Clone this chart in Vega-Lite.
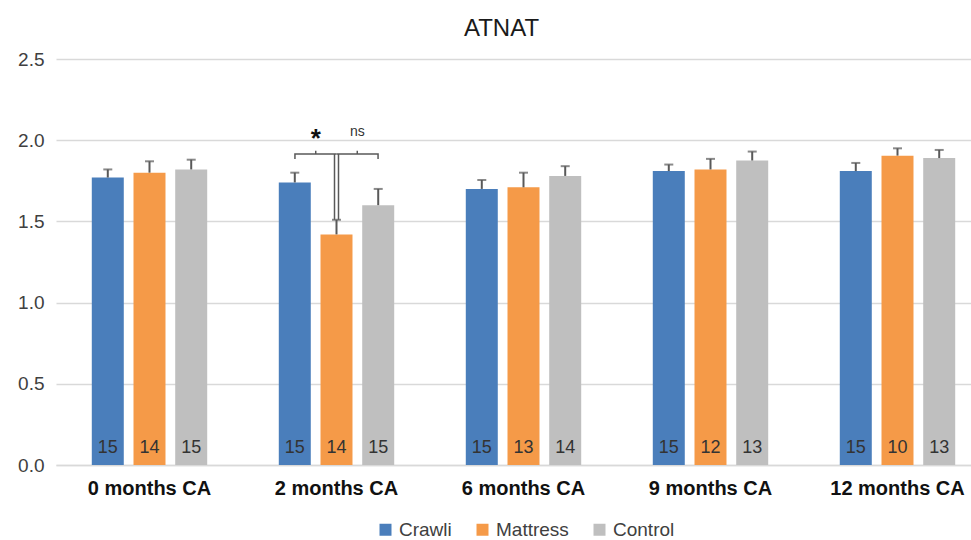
{
  "$schema": "https://vega.github.io/schema/vega-lite/v6.json",
  "description": "ATNAT by age and group, grouped bars with SE bars and n per bar.",
  "width": 915,
  "height": 406,
  "autosize": "none",
  "padding": {"left": 56, "top": 59, "right": 0, "bottom": 75},
  "title": {"text": "ATNAT", "fontSize": 24, "fontWeight": "normal", "color": "#1A1A1A", "offset": 9, "dx": -12},
  "datasets": {
    "bars": [
      {"month": "0 months CA", "group": "Crawli", "mean": 1.77, "upper": 1.82, "n": 15},
      {"month": "0 months CA", "group": "Mattress", "mean": 1.80, "upper": 1.87, "n": 14},
      {"month": "0 months CA", "group": "Control", "mean": 1.82, "upper": 1.88, "n": 15},
      {"month": "2 months CA", "group": "Crawli", "mean": 1.74, "upper": 1.80, "n": 15},
      {"month": "2 months CA", "group": "Mattress", "mean": 1.42, "upper": 1.51, "n": 14},
      {"month": "2 months CA", "group": "Control", "mean": 1.60, "upper": 1.70, "n": 15},
      {"month": "6 months CA", "group": "Crawli", "mean": 1.70, "upper": 1.755, "n": 15},
      {"month": "6 months CA", "group": "Mattress", "mean": 1.71, "upper": 1.80, "n": 13},
      {"month": "6 months CA", "group": "Control", "mean": 1.78, "upper": 1.84, "n": 14},
      {"month": "9 months CA", "group": "Crawli", "mean": 1.81, "upper": 1.85, "n": 15},
      {"month": "9 months CA", "group": "Mattress", "mean": 1.82, "upper": 1.885, "n": 12},
      {"month": "9 months CA", "group": "Control", "mean": 1.875, "upper": 1.93, "n": 13},
      {"month": "12 months CA", "group": "Crawli", "mean": 1.81, "upper": 1.86, "n": 15},
      {"month": "12 months CA", "group": "Mattress", "mean": 1.905, "upper": 1.95, "n": 10},
      {"month": "12 months CA", "group": "Control", "mean": 1.89, "upper": 1.94, "n": 13}
    ],
    "brackets": [
      {"month": "2 months CA", "pos": "Crawli", "y": 1.884, "bracket": "L", "order": 1},
      {"month": "2 months CA", "pos": "Crawli", "y": 1.915, "bracket": "L", "order": 2},
      {"month": "2 months CA", "pos": "Mattress", "y": 1.915, "bracket": "L", "order": 3},
      {"month": "2 months CA", "pos": "Mattress", "y": 1.915, "bracket": "R", "order": 1},
      {"month": "2 months CA", "pos": "Control", "y": 1.915, "bracket": "R", "order": 2},
      {"month": "2 months CA", "pos": "Control", "y": 1.884, "bracket": "R", "order": 3}
    ],
    "marks": [
      {"month": "2 months CA", "pos": "CM", "low": 1.915, "high": 1.935, "label": "*", "labelY": 1.96},
      {"month": "2 months CA", "pos": "MC", "low": 1.915, "high": 1.935, "label": "ns", "labelY": 2.026}
    ],
    "drops": [
      {"month": "2 months CA", "low": 1.51, "high": 1.915}
    ]
  },
  "encoding": {
    "x": {
      "field": "month",
      "type": "nominal",
      "sort": ["0 months CA", "2 months CA", "6 months CA", "9 months CA", "12 months CA"],
      "scale": {"paddingInner": 0, "paddingOuter": 0, "range": [0, 935]},
      "axis": {
        "title": null,
        "labelAngle": 0,
        "labelFontSize": 20,
        "labelFontWeight": "bold",
        "labelColor": "#111111",
        "labelPadding": 13,
        "ticks": false,
        "domainColor": "#D9D9D9",
        "domainWidth": 1.5,
        "grid": false
      }
    }
  },
  "layer": [
    {
      "data": {"name": "bars"},
      "encoding": {
        "xOffset": {
          "field": "group",
          "type": "nominal",
          "sort": ["Crawli", "Mattress", "Control"],
          "scale": {"paddingInner": 0.233, "paddingOuter": 0.858}
        }
      },
      "layer": [
        {
          "mark": {"type": "bar"},
          "encoding": {
            "y": {
              "field": "mean",
              "type": "quantitative",
              "scale": {"domain": [0, 2.5], "nice": false},
              "axis": {
                "title": null,
                "values": [0, 0.5, 1, 1.5, 2, 2.5],
                "format": ".1f",
                "labelFontSize": 19,
                "labelColor": "#404040",
                "labelPadding": 12,
                "domain": false,
                "ticks": false,
                "gridColor": "#D9D9D9",
                "gridWidth": 1.5
              }
            },
            "color": {
              "field": "group",
              "type": "nominal",
              "sort": ["Crawli", "Mattress", "Control"],
              "scale": {"domain": ["Crawli", "Mattress", "Control"], "range": ["#4A7EBB", "#F59A48", "#BFBFBF"]},
              "legend": {
                "title": null,
                "orient": "none",
                "legendX": 320,
                "legendY": 461,
                "direction": "horizontal",
                "symbolType": "square",
                "symbolSize": 144,
                "symbolStrokeWidth": 0,
                "labelFontSize": 19,
                "labelColor": "#404040",
                "columnPadding": 21,
                "labelOffset": 4
              }
            }
          }
        },
        {
          "mark": {"type": "rule", "color": "#595959", "strokeWidth": 2},
          "encoding": {
            "y": {"field": "mean", "type": "quantitative"},
            "y2": {"field": "upper"}
          }
        },
        {
          "mark": {"type": "tick", "color": "#595959", "size": 9, "thickness": 2},
          "encoding": {
            "y": {"field": "upper", "type": "quantitative"}
          }
        },
        {
          "mark": {"type": "text", "fontSize": 18, "color": "#333333", "baseline": "alphabetic", "dy": -12},
          "encoding": {
            "y": {"datum": 0, "type": "quantitative"},
            "text": {"field": "n", "type": "quantitative"}
          }
        }
      ]
    },
    {
      "encoding": {
        "xOffset": {
          "field": "pos",
          "type": "nominal",
          "scale": {
            "domain": ["pad1", "pad2", "Crawli", "CM", "Mattress", "MC", "Control", "pad3", "pad4"],
            "paddingInner": 0,
            "paddingOuter": 0
          }
        }
      },
      "layer": [
        {
          "data": {"name": "brackets"},
          "mark": {"type": "line", "color": "#595959", "strokeWidth": 1.5, "interpolate": "linear"},
          "encoding": {
            "y": {"field": "y", "type": "quantitative"},
            "detail": {"field": "bracket"},
            "order": {"field": "order"}
          }
        },
        {
          "data": {"name": "marks"},
          "mark": {"type": "rule", "color": "#595959", "strokeWidth": 1.5},
          "encoding": {
            "y": {"field": "low", "type": "quantitative"},
            "y2": {"field": "high"}
          }
        },
        {
          "data": {"name": "marks"},
          "transform": [{"filter": "datum.label === '*'"}],
          "mark": {"type": "text", "fontSize": 26, "fontWeight": "bold", "color": "#111111", "baseline": "alphabetic"},
          "encoding": {
            "y": {"field": "labelY", "type": "quantitative"},
            "text": {"field": "label"}
          }
        },
        {
          "data": {"name": "marks"},
          "transform": [{"filter": "datum.label === 'ns'"}],
          "mark": {"type": "text", "fontSize": 14, "color": "#333333", "baseline": "alphabetic"},
          "encoding": {
            "y": {"field": "labelY", "type": "quantitative"},
            "text": {"field": "label"}
          }
        }
      ]
    },
    {
      "data": {"name": "drops"},
      "layer": [
        {
          "mark": {"type": "rule", "color": "#595959", "strokeWidth": 1.5, "xOffset": -2},
          "encoding": {
            "y": {"field": "low", "type": "quantitative"},
            "y2": {"field": "high"}
          }
        },
        {
          "mark": {"type": "rule", "color": "#595959", "strokeWidth": 1.5, "xOffset": 2},
          "encoding": {
            "y": {"field": "low", "type": "quantitative"},
            "y2": {"field": "high"}
          }
        }
      ]
    }
  ],
  "resolve": {"scale": {"xOffset": "independent"}},
  "config": {
    "font": "Liberation Sans",
    "view": {"stroke": null}
  }
}
